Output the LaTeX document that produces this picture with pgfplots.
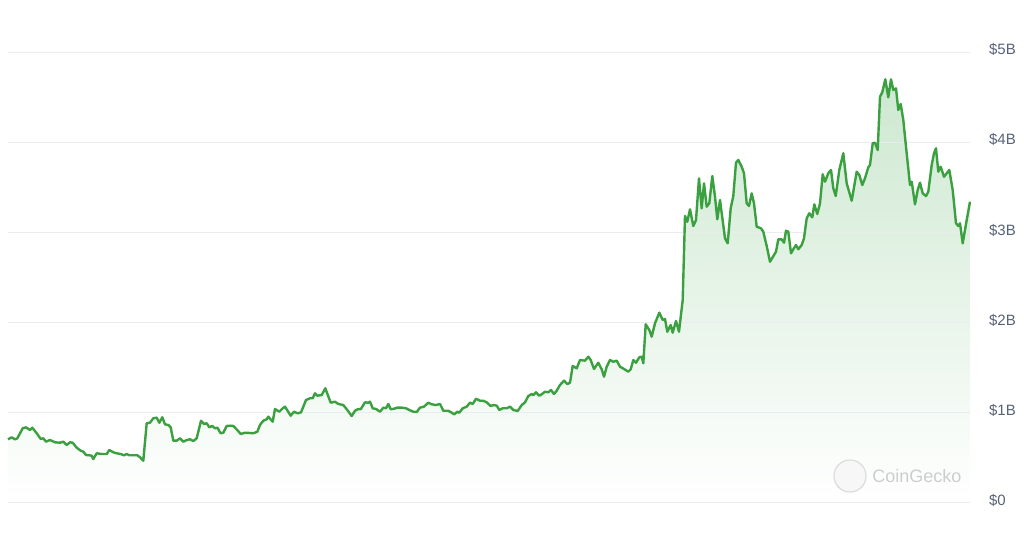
\documentclass[border=0pt]{standalone}
\usepackage{fontspec}
\setmainfont{Liberation Sans}
\usepackage{pgfplots}
\usepackage{pgfplotstable}
\pgfplotsset{compat=1.18}
\definecolor{linegreen}{RGB}{58,160,64}
\definecolor{filltop}{RGB}{205,232,208}
\definecolor{gridgray}{RGB}{234,236,239}
\definecolor{labelgray}{RGB}{88,98,120}
\definecolor{wmgray}{RGB}{205,205,205}
\pgfplotstableread{
x y
8 0.706
11.7 0.728
15 0.706
17.3 0.717
22.7 0.828
26 0.839
30 0.809
32.3 0.835
36.7 0.773
40.7 0.710
43.3 0.717
46 0.680
50 0.698
52.3 0.687
55 0.673
60 0.668
63.3 0.680
66.7 0.643
70 0.673
72.7 0.668
76.7 0.613
80.7 0.580
83.3 0.569
86 0.532
89.3 0.529
91.7 0.524
93.3 0.488
96.7 0.551
101.7 0.543
106.7 0.543
109.3 0.588
113.3 0.562
116.7 0.551
120.7 0.543
124 0.529
126.7 0.543
129.3 0.529
132.7 0.529
137.3 0.529
140 0.507
143.3 0.469
146.7 0.884
150 0.890
153.3 0.939
156.7 0.946
159.3 0.890
162.3 0.950
165 0.872
168.3 0.865
170.7 0.839
173.3 0.691
176.7 0.691
180 0.717
183.3 0.680
186.7 0.698
190 0.706
193.3 0.687
196.7 0.717
201 0.912
204 0.876
206.7 0.884
209.3 0.839
212.3 0.854
215 0.828
217.3 0.835
220.7 0.773
223.3 0.779
226.7 0.854
230.7 0.857
233.3 0.854
237.3 0.809
240.7 0.765
245 0.779
250 0.776
253.3 0.773
257.3 0.790
260 0.865
263.3 0.912
266.7 0.928
268.3 0.957
272.7 0.901
275 1.042
279.3 1.012
282.7 1.050
285 1.068
290.7 0.968
294 1.012
297.7 0.994
301 1.005
306 1.142
310 1.161
312.7 1.161
315 1.216
317.3 1.190
321.7 1.197
325.3 1.272
330.7 1.112
335 1.123
338.3 1.098
343.3 1.086
347.3 1.031
351.7 0.964
355 1.023
358.3 1.042
360.7 1.039
365 1.116
368.3 1.112
370 1.123
372.7 1.050
376 1.042
380 1.012
383.3 1.057
386 1.050
388.3 1.098
390.7 1.039
394 1.045
397.3 1.057
401.7 1.057
406 1.050
409.3 1.031
413.3 1.012
416.7 1.009
420 1.057
424 1.068
428.3 1.112
431.7 1.094
436 1.086
440 1.098
443.3 1.023
448.3 1.023
451.7 1.001
454.3 0.983
457.3 1.012
459.3 1.001
462.7 1.050
466.7 1.068
470 1.112
472.7 1.098
476 1.156
480 1.134
483.3 1.134
486.7 1.116
490.7 1.075
493.3 1.086
496.7 1.079
499.3 1.031
502.7 1.050
506.7 1.050
510 1.068
513.3 1.031
517.7 1.020
521.7 1.086
525 1.116
528.3 1.186
531.7 1.208
533.3 1.197
536 1.227
539.3 1.190
541.7 1.205
545 1.234
548.3 1.227
551 1.253
554 1.208
556.7 1.245
560 1.308
564 1.356
567.3 1.319
570 1.334
572.7 1.519
576.7 1.493
580 1.585
585 1.578
588.3 1.622
590.7 1.585
594 1.486
598.3 1.555
601.7 1.482
604 1.400
606.7 1.511
610 1.585
613.3 1.566
616.7 1.578
620 1.511
624 1.486
628.3 1.456
630.7 1.482
633.3 1.585
636 1.555
639.3 1.615
641.7 1.622
643.3 1.549
645.7 1.981
649.3 1.918
651.7 1.844
655 1.992
659.3 2.110
662.7 2.029
665 2.040
667.3 1.899
670.7 1.973
672.7 1.888
676 2.018
679 1.899
682.7 2.250
685 3.182
687.3 3.119
690 3.256
693.3 3.071
696 3.137
699 3.600
701.7 3.267
704 3.544
706.7 3.285
709.3 3.322
712.3 3.625
715 3.396
717.3 3.145
720 3.359
725 2.934
727.7 2.879
730.7 3.267
733.3 3.403
736 3.773
738.3 3.803
741.7 3.728
744 3.655
746.7 3.322
749 3.293
751.7 3.433
754 3.322
756.7 3.063
761 3.045
763.3 3.008
766.7 2.849
770 2.675
774 2.749
776 2.786
778.3 2.923
781.7 2.923
784 2.886
786 3.019
788.3 3.008
791 2.768
793.3 2.813
796 2.860
798.3 2.813
801.7 2.860
804 2.934
806.7 3.156
809.3 3.212
812.3 3.167
814.3 3.311
817.3 3.204
820 3.322
822.7 3.644
825 3.562
828.3 3.655
831 3.692
833.3 3.489
835.7 3.403
839.3 3.692
843.3 3.877
846.7 3.544
851.7 3.351
856.7 3.673
859.3 3.636
862.3 3.525
865 3.600
868.3 3.722
870 3.747
872.7 3.988
875 3.994
877.7 3.913
880 4.504
882.3 4.553
885.3 4.697
888.3 4.498
891 4.697
893.3 4.579
896 4.597
898.3 4.357
900.7 4.423
903.3 4.246
906 3.950
910 3.525
911.7 3.562
915 3.311
917.7 3.470
920 3.551
922.7 3.433
926 3.403
928.3 3.451
931.7 3.747
934 3.877
936 3.932
938.3 3.673
940.7 3.728
944 3.617
946.7 3.655
949.3 3.692
952.7 3.470
956 3.101
958.3 3.071
960 3.101
962.7 2.879
966.7 3.137
970 3.340
}\mcdata
\begin{document}
\begin{tikzpicture}[x=0.5pt,y=0.5pt]
\begin{axis}[
  name=ax,
  at={(0,0)}, anchor=south west,
  scale only axis,
  set layers,
  width=481pt, height=225.5pt,
  xmin=8, xmax=970, ymin=0, ymax=5,
  enlargelimits=false,
  axis line style={draw=none},
  major tick length=0pt,
  xtick=\empty,
  ytick={0,1,2,3,4,5},
  yticklabels={\$0,\$1B,\$2B,\$3B,\$4B,\$5B},
  yticklabel pos=right,
  yticklabel style={anchor=west, xshift=6pt, yshift=1.2pt, font=\fontsize{7.5}{9}\selectfont, text=labelgray},
  ymajorgrids,
  grid style={color=gridgray, line width=0.5pt},
  clip=false,
]
\addplot[on layer=axis background, draw=none, top color=filltop, bottom color=white] table[x=x,y=y] {\mcdata} \closedcycle;
\addplot[color=linegreen, line width=1.2pt, line join=round, mark=none] table[x=x,y=y] {\mcdata};
\end{axis}
\fill[gray!6] (421pt,13.5pt) circle (8pt);
\draw[wmgray!70, line width=0.6pt] (421pt,13.5pt) circle (8pt);
\node[anchor=west, text=wmgray, font=\fontsize{9}{11}\selectfont, inner sep=0pt] at (432pt,13.5pt) {CoinGecko};
\path (-4pt,-15.5pt) rectangle (508pt,251.5pt);
\end{tikzpicture}
\end{document}
